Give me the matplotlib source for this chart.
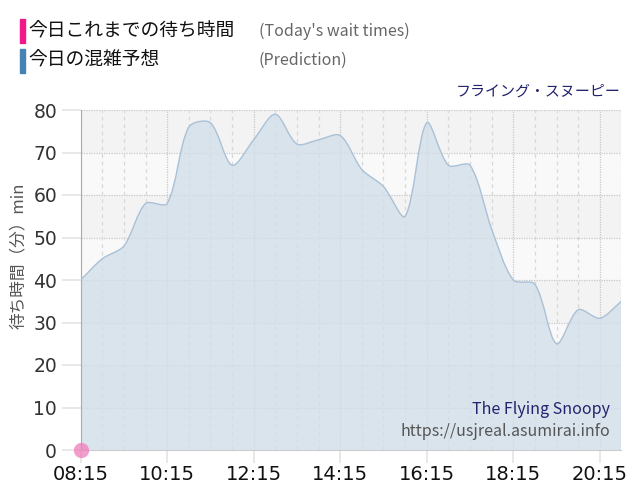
import matplotlib
matplotlib.use("Agg")
import matplotlib.pyplot as plt
from matplotlib.path import Path
from matplotlib.patches import PathPatch, Rectangle
import numpy as np

plt.rcParams['font.family'] = ['Noto Sans CJK JP', 'DejaVu Sans']

# ---- data ----
pred_times = ["08:15", "08:45", "09:15", "09:45", "10:15", "10:45", "11:15", "11:45",
              "12:15", "12:45", "13:15", "13:45", "14:15", "14:45", "15:15", "15:45",
              "16:15", "16:45", "17:15", "17:45", "18:15", "18:45", "19:15", "19:45",
              "20:15", "20:45"]
pred_values = [40, 45, 48, 58, 58, 76, 77, 67,
               73, 79, 72, 73, 74, 66, 62, 55,
               77, 67, 67, 52, 40, 39, 25, 33,
               31, 35]
actual_times = ["08:15"]
actual_values = [0]
tick_labels = ["08:15", "10:15", "12:15", "14:15", "16:15", "18:15", "20:15"]
y_ticks = [0, 10, 20, 30, 40, 50, 60, 70, 80]

def to_h(s):
    h, m = s.split(":")
    return int(h) + int(m) / 60.0

px = np.array([to_h(t) for t in pred_times])
py = np.array(pred_values, dtype=float)

fig = plt.figure(figsize=(6.4, 5.0), dpi=100)
ax = fig.add_axes([0.126, 0.10, 0.845, 0.68])
x0, x1 = px[0], px[-1]
ax.set_xlim(x0, x1)
ax.set_ylim(0, 80)

# alternating bands
for i in range(8):
    col = '#f3f3f3' if i % 2 == 1 else '#f9f9f9'
    ax.axhspan(y_ticks[i], y_ticks[i + 1], color=col, lw=0, zorder=0)

# grid
for v in y_ticks[1:]:
    ax.axhline(v, color='#c8c8c8', lw=0.9, ls=(0, (1, 1)), zorder=1)
major = [to_h(t) for t in tick_labels]
for t in np.arange(x0, x1 + 0.01, 0.5):
    if any(abs(t - m) < 1e-6 for m in major):
        ax.axvline(t, color='#c8c8c8', lw=0.9, ls=(0, (1, 1)), zorder=1)
    else:
        ax.axvline(t, color='#d8d8d8', lw=0.9, ls=(0, (3, 3)), zorder=1)

# smooth curve (Chart.js-like tension spline) in display coords
fig.canvas.draw()
pts = ax.transData.transform(np.column_stack([px, py]))
tension = 0.3
n = len(pts)
cps = []
for i in range(n):
    p0 = pts[max(i - 1, 0)]
    p1 = pts[i]
    p2 = pts[min(i + 1, n - 1)]
    d01 = np.hypot(*(p1 - p0))
    d12 = np.hypot(*(p2 - p1))
    tot = d01 + d12 if d01 + d12 > 0 else 1
    s01 = d01 / tot
    s12 = d12 / tot
    c_prev = p1 - tension * s01 * (p2 - p0)
    c_next = p1 + tension * s12 * (p2 - p0)
    cps.append((c_prev, c_next))
inv = ax.transData.inverted()
verts = [pts[0]]
codes = [Path.MOVETO]
for i in range(n - 1):
    verts += [cps[i][1], cps[i + 1][0], pts[i + 1]]
    codes += [Path.CURVE4] * 3
verts_d = inv.transform(np.array(verts))
line_path = Path(verts_d, codes)
fill_verts = np.vstack([verts_d, [[x1, 0], [x0, 0], [x0, py[0]]]])
fill_codes = codes + [Path.LINETO, Path.LINETO, Path.CLOSEPOLY]
ax.add_patch(PathPatch(Path(fill_verts, fill_codes), facecolor='#d3dfe9', alpha=0.8,
                       edgecolor='none', zorder=2))
ax.add_patch(PathPatch(line_path, facecolor='none', edgecolor='#a9c1d6', lw=1.0, zorder=3))

# actual
ax.plot([to_h(t) for t in actual_times], actual_values, 'o', color='#f07cba', alpha=0.75,
        ms=11, mec='none', clip_on=False, zorder=5)

# axes styling
for s in ['top', 'right']:
    ax.spines[s].set_visible(False)
ax.spines['left'].set_color('#aaaaaa')
ax.spines['bottom'].set_color('#cccccc')
ax.spines['bottom'].set_linewidth(0.8)
ax.set_yticks(y_ticks)
ax.set_yticklabels([str(v) for v in y_ticks], fontsize=13.5, color='#333333',
                   family='DejaVu Sans')
ax.set_xticks(major)
ax.set_xticklabels(tick_labels, fontsize=14, color='#111111', family='DejaVu Sans')
ax.tick_params(axis='y', length=14, color='#e4e4e4', width=1.2, pad=3)
ax.tick_params(axis='x', length=9, color='#e4e4e4', width=1.2, pad=2)
ax.set_ylabel('待ち時間（分）min', fontsize=12, color='#555555')
ax.yaxis.set_label_coords(-0.1, 0.57)

# legend header
fig.patches.append(Rectangle((20 / 640, 1 - 43 / 500), 5 / 640, 24 / 500,
                             transform=fig.transFigure, color='#f0188a'))
fig.patches.append(Rectangle((20 / 640, 1 - 73 / 500), 5 / 640, 24 / 500,
                             transform=fig.transFigure, color='#4682b4'))
fig.text(28 / 640, 1 - 31 / 500, '今日これまでの待ち時間', fontsize=13.5, color='#111111',
         va='center', ha='left')
fig.text(28 / 640, 1 - 60 / 500, '今日の混雑予想', fontsize=13.5, color='#111111',
         va='center', ha='left')
fig.text(259 / 640, 1 - 31 / 500, "(Today's wait times)", fontsize=11.5, color='#666666',
         va='center', ha='left')
fig.text(259 / 640, 1 - 60 / 500, "(Prediction)", fontsize=11.5, color='#666666',
         va='center', ha='left')
fig.text(621 / 640, 1 - 92 / 500, 'フライング・スヌーピー', fontsize=10.8, color='#22226e',
         va='center', ha='right')
fig.text(610 / 640, 1 - 410 / 500, 'The Flying Snoopy', fontsize=11.5, color='#22226e',
         va='center', ha='right')
fig.text(610 / 640, 1 - 431 / 500, 'https://usjreal.asumirai.info', fontsize=11.5,
         color='#555555', va='center', ha='right')

fig.savefig('out.png', dpi=100)
